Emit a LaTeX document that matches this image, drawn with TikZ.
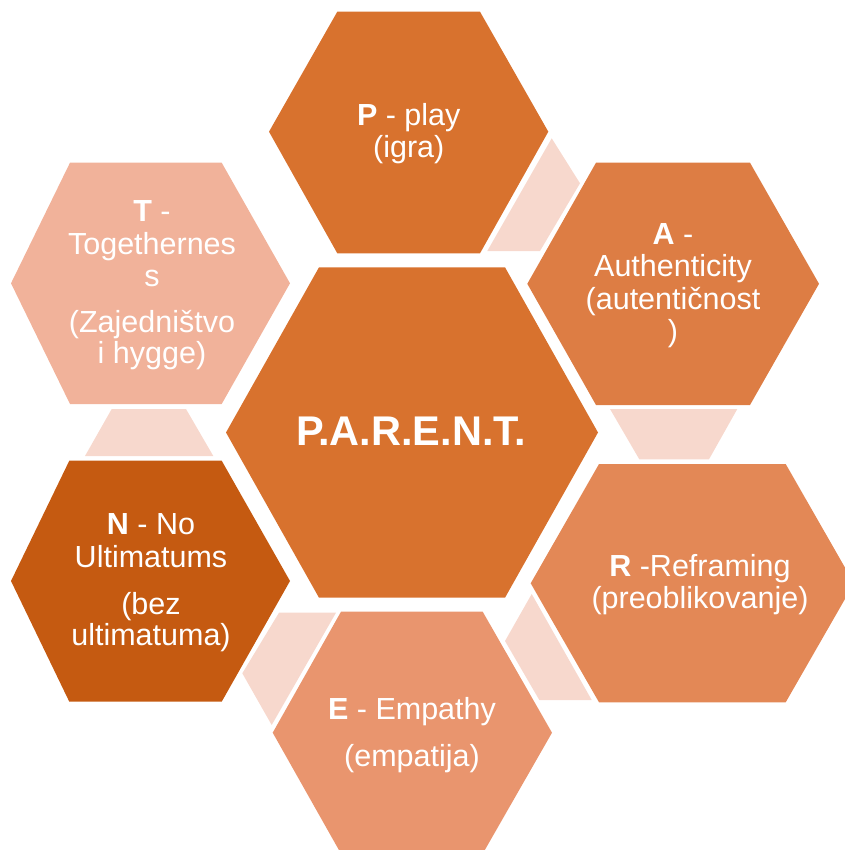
\documentclass[tikz,border=0pt]{standalone}
\usepackage{fontspec}
\setmainfont{Liberation Sans}
\definecolor{cP}{HTML}{D8722E}
\definecolor{cA}{HTML}{DD7D44}
\definecolor{cR}{HTML}{E38856}
\definecolor{cE}{HTML}{E9956E}
\definecolor{cN}{HTML}{C55A11}
\definecolor{cT}{HTML}{F1B29A}
\definecolor{cLink}{HTML}{F7D8CD}
\tikzset{
  lbl/.style={anchor=base, text=white, inner sep=0pt, font=\fontsize{30.5}{32}\selectfont},
  big/.style={anchor=base, text=white, inner sep=0pt, font=\fontsize{41.5}{44}\selectfont\bfseries},
  link/.style={fill=cLink}
}
\begin{document}
\begin{tikzpicture}[x=1pt,y=-1pt]
\useasboundingbox (0,0) rectangle (844,850);
% hexagons
\fill[cP] (226,432.5) -- (319,267.3) -- (505,267.3) -- (598,432.5) -- (505,597.7) -- (319,597.7) -- cycle;
\fill[cP] (269,131.7) -- (337.3,11.7) -- (480,11.7) -- (548.3,131.7) -- (480,253.3) -- (337.3,253.3) -- cycle;
\fill[cA] (527.3,283.8) -- (596,162.7) -- (750,162.7) -- (819,283.8) -- (750,405) -- (596,405) -- cycle;
\fill[cR] (530.7,583.3) -- (599,464) -- (785.7,464) -- (854,583.3) -- (785.7,702.3) -- (599,702.3) -- cycle;
\fill[cE] (272.7,732.7) -- (341,611.7) -- (482.7,611.7) -- (552,732.7) -- (482.7,853.7) -- (341,853.7) -- cycle;
\fill[cN] (11,581) -- (69.3,460.7) -- (221.7,460.7) -- (290,581) -- (221.7,701.7) -- (69.3,701.7) -- cycle;
\fill[cT] (11,283.3) -- (70,162.7) -- (221.7,162.7) -- (290,283.3) -- (221.7,404) -- (70,404) -- cycle;
% connecting pieces
\fill[link] (551.7,138.3) -- (580,183.3) -- (540,251) -- (487.3,251) -- cycle;
\fill[link] (610,409) -- (737.3,409) -- (709,459.3) -- (639.3,459.3) -- cycle;
\fill[link] (531.7,594) -- (591.7,700) -- (539.3,700) -- (505,641) -- cycle;
\fill[link] (279,612.7) -- (336,612.7) -- (271.7,725) -- (242.3,673.3) -- cycle;
\fill[link] (111.7,409) -- (186,409) -- (213.3,456) -- (85,456) -- cycle;
% texts
\node[big] (c) at (411,445) {P.A.R.E.N.T.};
\node[lbl] (p1) at (408.7,126) {\textbf{P} - play};
\node[lbl] (p2) at (408.7,158) {(igra)};
\node[lbl] (a1) at (673,244) {\textbf{A} -};
\node[lbl] (a2) at (673,276.7) {Authenticity};
\node[lbl] (a3) at (673,309.3) {(autentičnost};
\node[lbl] (a4) at (673,341.7) {)};
\node[lbl] (r1) at (700,576) {\textbf{R} -Reframing};
\node[lbl] (r2) at (700,608.3) {(preoblikovanje)};
\node[lbl] (e1) at (412,719.3) {\textbf{E} - Empathy};
\node[lbl] (e2) at (412,766.7) {(empatija)};
\node[lbl] (n1) at (151,534.3) {\textbf{N} - No};
\node[lbl] (n2) at (151,567.3) {Ultimatums};
\node[lbl] (n3) at (151,614) {(bez};
\node[lbl] (n4) at (151,645.5) {ultimatuma)};
\node[lbl] (t1) at (152,221.7) {\textbf{T} -};
\node[lbl] (t2) at (152,254) {Togethernes};
\node[lbl] (t3) at (152,286.7) {s};
\node[lbl] (t4) at (152,332.7) {(Zajedništvo};
\node[lbl] (t5) at (152,363.3) {i hygge)};
\end{tikzpicture}
\end{document}
